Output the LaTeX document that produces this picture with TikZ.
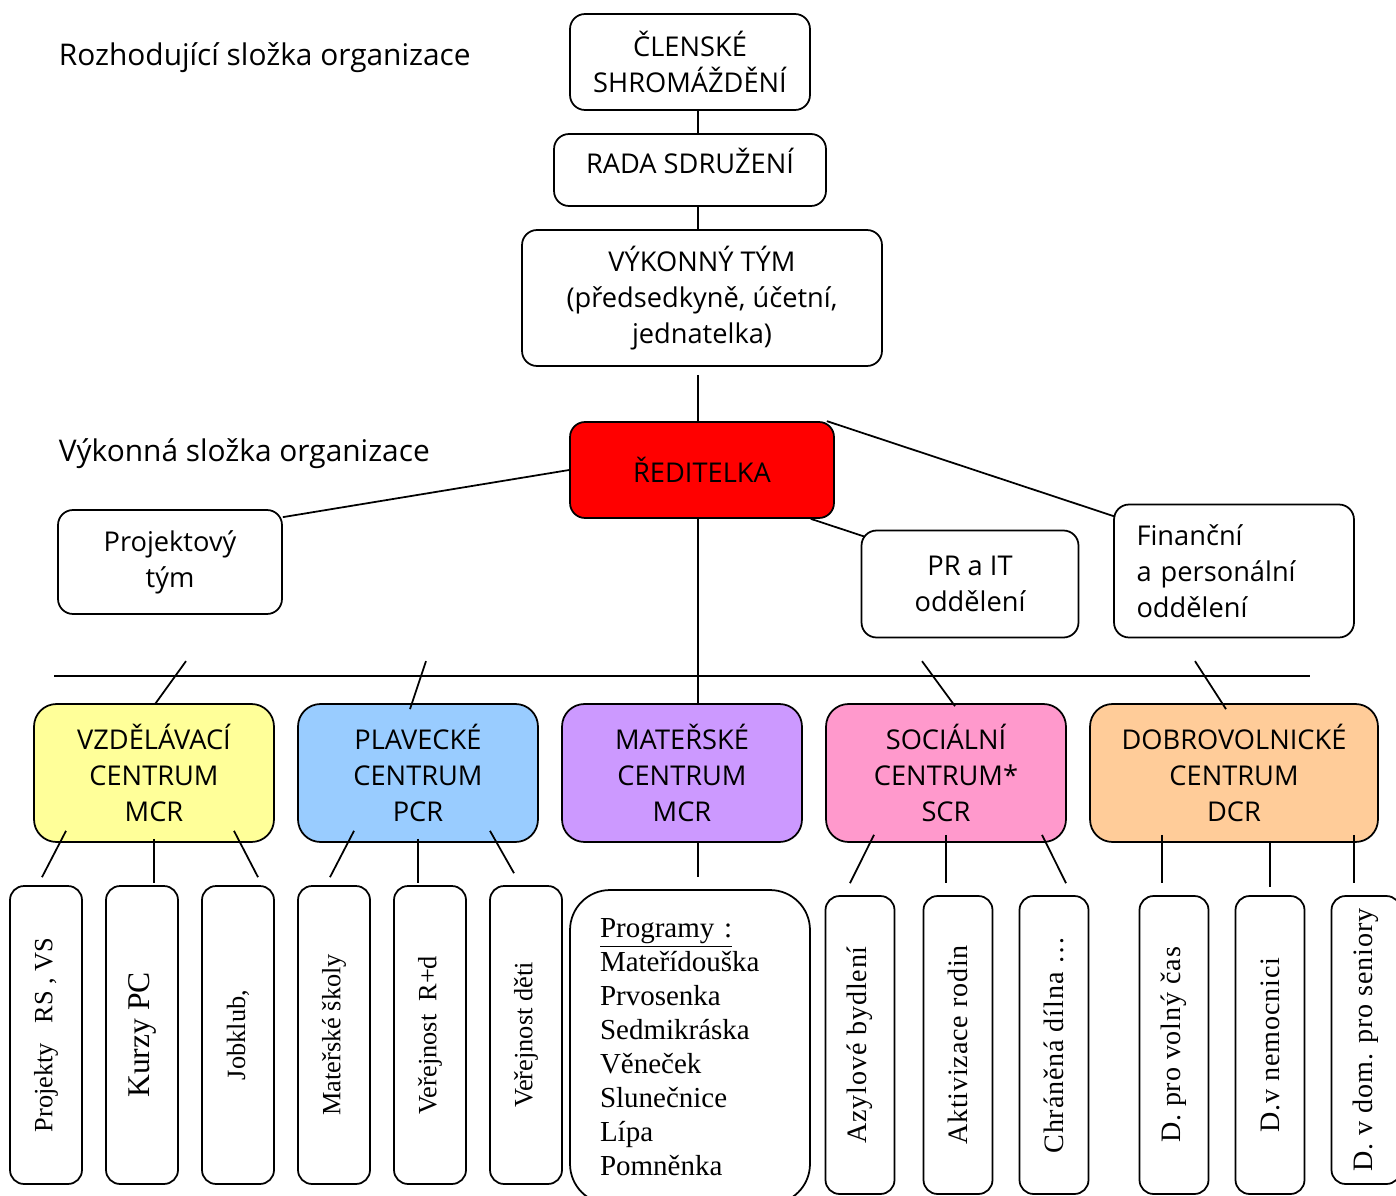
\documentclass[tikz,border=0pt]{standalone}
\usepackage{fontspec}
\setmainfont{Liberation Serif}
\newfontfamily\boxfont{Open Sans}
\usetikzlibrary{positioning,calc}
\definecolor{vzdelcol}{HTML}{FFFF99}
\definecolor{plavcol}{HTML}{99CCFF}
\definecolor{matcol}{HTML}{CC99FF}
\definecolor{soccol}{HTML}{FF99CC}
\definecolor{dobrocol}{HTML}{FFCC99}

\begin{document}
\begin{tikzpicture}[x=0.02cm,y=-0.02cm,line width=1pt]
  \tikzset{
  org/.style={
    rectangle,
    rounded corners=0.3cm,
    draw=black,
    align=center,
    inner sep=2pt,
    font=\boxfont\fontsize{15.5pt}{20.5pt}\selectfont
  },
  centrum/.style={
    org,
    rounded corners=0.45cm,
    minimum width=4.8cm,
    minimum height=2.76cm
  },
  aktiv/.style={
    rectangle,
    rounded corners=0.28cm,
    draw=black,
    minimum width=1.44cm,
    minimum height=5.96cm,
    font=\fontsize{15pt}{18pt}\selectfont
  },
  aktivsir/.style={
    aktiv,
    minimum width=1.38cm,
    font=\fontsize{16pt}{18pt}\selectfont\addfontfeature{LetterSpace=3}
  },
  popis/.style={
    anchor=west,
    inner sep=0pt,
    font=\boxfont\fontsize{17pt}{20pt}\selectfont
  }
}
\useasboundingbox (0,0) rectangle (1396,1196);

\node[popis] at (58,58) (rozhod) {Rozhodující složka organizace};
\node[popis] at (58,454) (vykonna) {Výkonná složka organizace};

% rozhodujici cast
\node[org, minimum width=4.8cm, minimum height=1.92cm] at (690,62)
  (clen) {ČLENSKÉ\\SHROMÁŽDĚNÍ};
\node[org, minimum width=5.44cm, minimum height=1.44cm] at (690,170)
  (rada) {\raisebox{11pt}{RADA SDRUŽENÍ}};
\node[org, minimum width=7.2cm, minimum height=2.72cm] at (702,298)
  (vykon) {VÝKONNÝ TÝM\\(předsedkyně, účetní,\\jednatelka)};

% vykonna cast
\node[org, fill=red, minimum width=5.28cm, minimum height=1.92cm] at (702,470)
  (reditelka) {ŘEDITELKA};
\node[org, minimum width=4.48cm, minimum height=2.08cm] at (170,562)
  (projekt) {Projektový\\tým};
\node[org, minimum width=4.34cm, minimum height=2.14cm] at (970,584)
  (pr) {PR a IT\\oddělení};
\node[org, minimum width=4.8cm, minimum height=2.66cm, text width=3.9cm, align=left] at (1234,571)
  (financni) {Finanční\\a personální\\oddělení};

\node[centrum, fill=vzdelcol] at (154,773) (vzdel) {VZDĚLÁVACÍ\\CENTRUM\\MCR};
\node[centrum, fill=plavcol] at (418,773) (plav) {PLAVECKÉ\\CENTRUM\\PCR};
\node[centrum, fill=matcol] at (682,773) (mat) {MATEŘSKÉ\\CENTRUM\\MCR};
\node[centrum, fill=soccol] at (946,773) (soc) {SOCIÁLNÍ\\CENTRUM*\\SCR};
\node[centrum, fill=dobrocol, minimum width=5.76cm] at (1234,773) (dobro) {DOBROVOLNICKÉ\\CENTRUM\\DCR};

% cinnosti
\node[aktiv] at (46,1035) (projekty) {\rotatebox{90}{Projekty \ \ RS , VS}};
\node[aktiv, font=\fontsize{18pt}{20pt}\selectfont] at (142,1035) (kurzy) {\rotatebox{90}{Kurzy PC}};
\node[aktiv] at (238,1035) (jobklub) {\rotatebox{90}{Jobklub,}};
\node[aktiv] at (334,1035) (skoly) {\rotatebox{90}{Mateřské školy}};
\node[aktiv] at (430,1035) (verejrd) {\rotatebox{90}{Veřejnost \ R+d}};
\node[aktiv] at (526,1035) (verejdeti) {\rotatebox{90}{Veřejnost děti}};
\node[aktiv, rounded corners=0.8cm, minimum width=4.8cm, minimum height=6.28cm,
  text width=3.6cm, align=left, font=\fontsize{16.5pt}{19.3pt}\selectfont] at (690,1047)
  (programy) {\underline{Programy :}\\Mateřídouška\\Prvosenka\\Sedmikráska\\Věneček\\Slunečnice\\Lípa\\Pomněnka};
\node[aktivsir] at (860,1045) (azyl) {\rotatebox{90}{Azylové bydlení}};
\node[aktivsir] at (958,1045) (aktivizace) {\rotatebox{90}{Aktivizace rodin}};
\node[aktivsir] at (1054,1045) (dilna) {\rotatebox{90}{Chráněná dílna …}};
\node[aktivsir] at (1174,1045) (volny) {\rotatebox{90}{D. pro volný čas}};
\node[aktivsir] at (1270,1045) (nemocnice) {\rotatebox{90}{D.v nemocnici}};
\node[aktivsir, minimum height=5.76cm] at (1366,1040) (seniori) {\rotatebox{90}{D. v dom. pro seniory}};

% spojnice
\draw ($(clen.south)+(8,0)$) -- ($(rada.north)+(8,0)$);
\draw ($(rada.south)+(8,0)$) -- ($(vykon.north)+(-4,0)$);
\draw ($(vykon.south)+(-4,8)$) -- ($(reditelka.north)+(-4,0)$);
\draw (reditelka.west) -- ($(projekt.north east)+(0,8)$);
\draw ($(reditelka.north east)+(-8,0)$) -- ($(financni.north west)+(2,13)$);
\draw ($(reditelka.south east)+(-24,0)$) -- ($(pr.north west)+(4,7)$);
\draw ($(reditelka.south)+(-4,0)$) -- ($(mat.north)+(16,0)$);

\coordinate (hz) at (54,676);
\coordinate (hk) at (1310,676);
\draw (hz) -- (hk);

\draw ($(vzdel.north)+(32,-42)$) -- ($(vzdel.north)+(1,1)$);
\draw ($(plav.north)+(8,-42)$) -- ($(plav.north)+(-8,6)$);
\draw ($(soc.north)+(-24,-42)$) -- ($(soc.north)+(9,3)$);
\draw ($(dobro.north)+(-39,-42)$) -- ($(dobro.north)+(-8,6)$);

\draw ($(vzdel.south)+(-88,-12)$) -- ($(projekty.north)+(-4,-8)$);
\draw ($(vzdel.south)+(0,-4)$) -- ($(kurzy.north)+(12,-2)$);
\draw ($(vzdel.south)+(80,-12)$) -- ($(jobklub.north)+(20,-8)$);
\draw ($(plav.south)+(-64,-12)$) -- ($(skoly.north)+(-4,-8)$);
\draw ($(plav.south)+(0,-4)$) -- ($(verejrd.north)+(-12,-2)$);
\draw ($(plav.south)+(72,-12)$) -- ($(verejdeti.north)+(-12,-12)$);
\draw ($(mat.south)+(16,0)$) -- ($(programy.north)+(8,-12)$);
\draw ($(soc.south)+(-72,-8)$) -- ($(azyl.north)+(-10,-12)$);
\draw ($(soc.south)+(0,-8)$) -- ($(aktivizace.north)+(-12,-12)$);
\draw ($(soc.south)+(96,-8)$) -- ($(dilna.north)+(12,-12)$);
\draw ($(dobro.south)+(-72,-8)$) -- ($(volny.north)+(-12,-12)$);
\draw ($(dobro.south)+(36,-2)$) -- ($(nemocnice.north)+(0,-8)$);
\draw ($(dobro.south)+(120,-8)$) -- ($(seniori.north)+(-12,-12)$);
\end{tikzpicture}
\end{document}
